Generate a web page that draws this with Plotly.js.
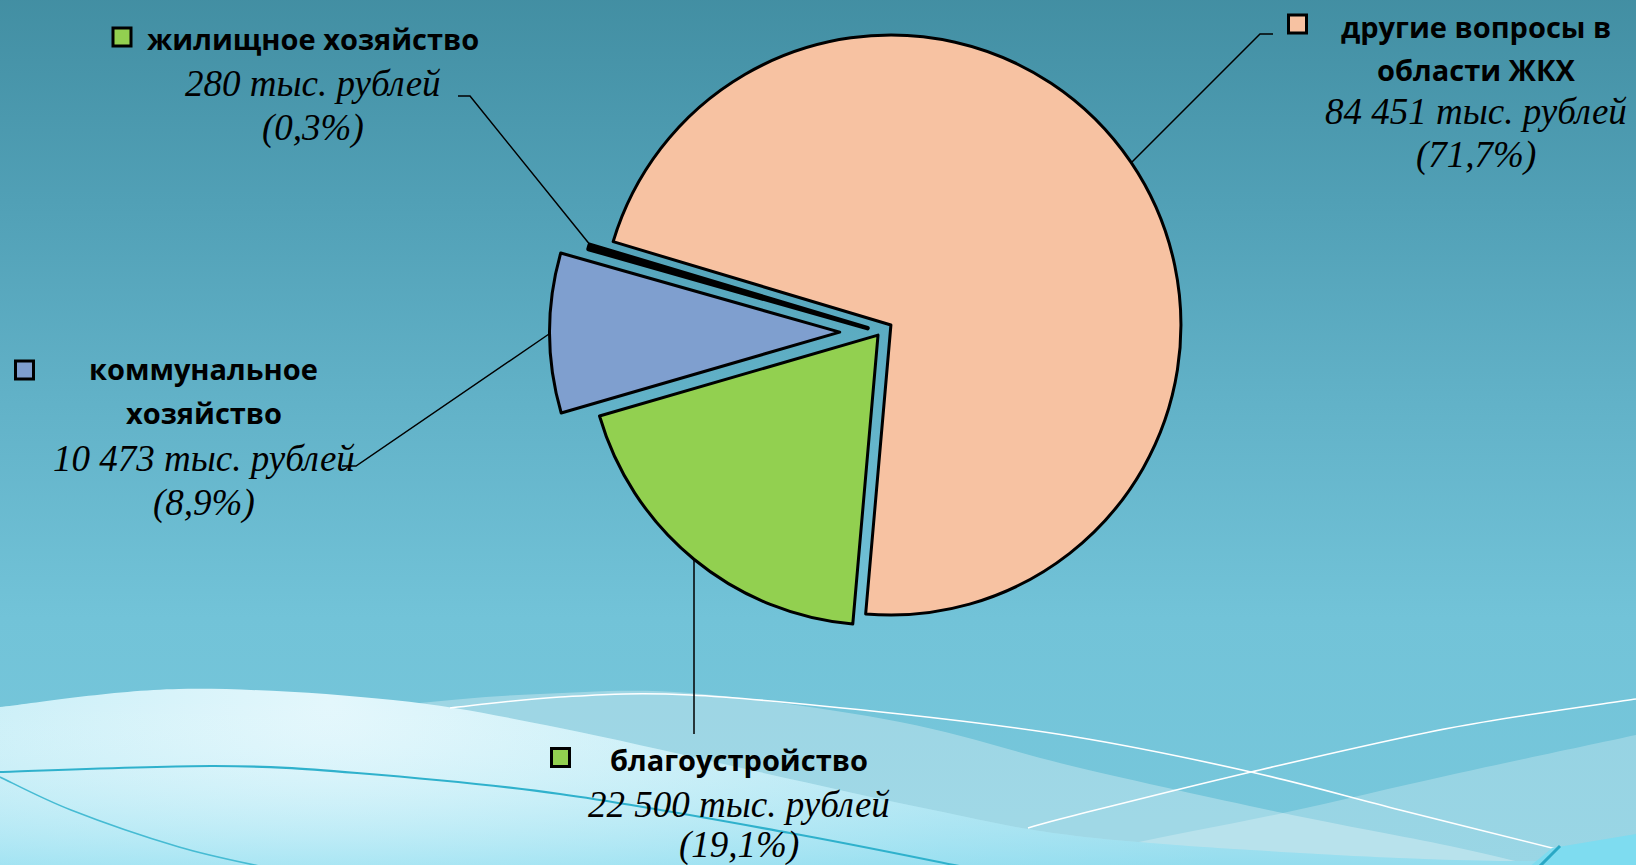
<!DOCTYPE html>
<html><head><meta charset="utf-8">
<script src="https://cdn.plot.ly/plotly-3.0.1.min.js"></script>
<style>
html,body{margin:0;padding:0;width:1636px;height:865px;overflow:hidden;background:#5aaac0;}
#chart{position:absolute;left:0;top:-20px;width:1636px;height:885px;}
</style></head><body><div id="chart"></div>
<script>
// ---------- data ----------
const categories = ['другие вопросы в области ЖКХ', 'благоустройство', 'коммунальное хозяйство', 'жилищное хозяйство'];
const labelLines = [['другие вопросы в', 'области ЖКХ'], ['благоустройство'], ['коммунальное', 'хозяйство'], ['жилищное хозяйство']];
const values = [84451, 22500, 10473, 280];
const percentLabels = ['71,7', '19,1', '8,9', '0,3'];
const unitText = 'тыс. рублей';
// ---------- styling ----------
const sliceColors = ['#F7C2A2', '#92D050', '#7F9FCF', '#92D050'];
const pulls = [0.043, 0.014, 0.141, 0.047];
const lineWidths = [3, 3, 3, 4.5];

const W = 1636, H = 885, OFF = 20;
const px = x => x / W, py = y => 1 - (y + OFF) / H;
const fmt = v => String(v).replace(/\B(?=(\d{3})+(?!\d))/g, ' ');

// pie geometry (pixels)
const PIE_CX = 880.6, PIE_CY = 332, PIE_R = 290;
const maxPull = Math.max(...pulls);
const half = PIE_R * (1 + maxPull);

// label placement (pixels)
const labelPos = [
  {sq: [1297.5, 24], cx: 1476, lines: [26, 69], vals: [111, 155], leader: [[1132, 162], [1260, 34], [1273, 34]]},
  {sq: [560.5, 757.5], cx: 739, lines: [759], vals: [804, 845], leader: [[694, 558], [694, 734]]},
  {sq: [24.5, 370], cx: 203.5, lines: [368, 412], vals: [458, 503], leader: [[549, 334], [356, 466], [342, 466]]},
  {sq: [122, 37], cx: 312.5, lines: [38], vals: [83, 128], leader: [[591, 246], [470, 96], [458, 96]]}
];

function smooth(pts) {
  const r = v => Math.round(v * 10) / 10;
  let d = 'M' + pts[0][0] + ',' + pts[0][1];
  for (let i = 0; i < pts.length - 1; i++) {
    const p0 = pts[i - 1] || pts[i], p1 = pts[i], p2 = pts[i + 1], p3 = pts[i + 2] || p2;
    const c1 = [r(p1[0] + (p2[0] - p0[0]) / 6), r(p1[1] + (p2[1] - p0[1]) / 6)];
    const c2 = [r(p2[0] - (p3[0] - p1[0]) / 6), r(p2[1] - (p3[1] - p1[1]) / 6)];
    d += ' C' + c1 + ' ' + c2 + ' ' + p2;
  }
  return d;
}

// background decoration as svg
const bandA = smooth([[330,715],[420,703],[540,694],[690,693],[900,722],[1076,767],[1283,813],[1450,846],[1560,872]]) + ' L1560,890 L330,890 Z';
const bandB = smooth([[1000,880],[1122,846],[1283,813],[1450,775],[1636,735]]) + ' L1636,890 L1000,890 Z';
const light = smooth([[0,707],[179,689],[393,700],[560,728],[750,770],[933,810],[1076,836],[1300,853],[1500,861],[1636,858]]) + ' L1636,890 L0,890 Z';
const cyan1 = smooth([[0,772],[214,766],[357,773],[560,794],[790,833],[969,868]]);
const cyan2 = smooth([[0,777],[71,810],[179,847],[268,868]]);
const white1 = smooth([[450,708],[560,697],[690,695],[900,714],[1076,737],[1251,772],[1400,810],[1572,853]]);
const white2 = smooth([[1028,828],[1076,815],[1251,772],[1450,728],[1636,699]]);

const svg = `<svg xmlns="http://www.w3.org/2000/svg" width="${W}" height="${H}" viewBox="0 -${OFF} ${W} ${H}" preserveAspectRatio="none">
<defs>
<linearGradient id="bg" x1="0" y1="-20" x2="0" y2="865" gradientUnits="userSpaceOnUse">
<stop offset="0" stop-color="#418DA1"/><stop offset="0.25" stop-color="#51A0B6"/><stop offset="0.48" stop-color="#62B2C8"/><stop offset="0.72" stop-color="#72C3D8"/><stop offset="1" stop-color="#78C8DC"/>
</linearGradient>
<radialGradient id="lg" cx="330" cy="700" r="900" gradientUnits="userSpaceOnUse">
<stop offset="0" stop-color="#E3F7FC"/><stop offset="0.35" stop-color="#CDF0F8"/><stop offset="0.7" stop-color="#B3E6F3"/><stop offset="1" stop-color="#A8E0EE"/>
</radialGradient>
<linearGradient id="lg2" x1="0" y1="700" x2="0" y2="870" gradientUnits="userSpaceOnUse">
<stop offset="0" stop-color="#FFFFFF" stop-opacity="0"/><stop offset="1" stop-color="#7FD9EE" stop-opacity="0.55"/>
</linearGradient>
</defs>
<rect x="0" y="-20" width="${W}" height="${H}" fill="url(#bg)"/>
<path d="${bandA}" fill="#FFFFFF" fill-opacity="0.3"/>
<path d="${bandB}" fill="#FFFFFF" fill-opacity="0.25"/>
<path d="${light}" fill="url(#lg)"/>
<path d="${light}" fill="url(#lg2)"/>
<path d="${white1}" fill="none" stroke="#FFFFFF" stroke-width="1.6"/>
<path d="${white2}" fill="none" stroke="#FFFFFF" stroke-width="1.6"/>
<path d="${cyan1}" fill="none" stroke="#2FB1CC" stroke-width="2.2"/>
<path d="${cyan2}" fill="none" stroke="#46BBD3" stroke-width="1.6"/>
<path d="M1528,868 L1552,848 L1636,834 L1636,868 Z" fill="#7EDCF0"/>
<path d="M1538,868 L1560,846" stroke="#2AA8C5" stroke-width="3"/>
</svg>`;
const bgURI = 'data:image/svg+xml;charset=utf-8,' + encodeURIComponent(svg);

const trace = {
  type: 'pie',
  labels: categories,
  values: values,
  sort: false,
  direction: 'clockwise',
  rotation: -73.3,
  pull: pulls,
  marker: {colors: sliceColors, line: {color: '#000000', width: lineWidths}},
  textinfo: 'none',
  textposition: 'none',
  hoverinfo: 'label+value+percent',
  showlegend: false,
  domain: {x: [px(PIE_CX - half), px(PIE_CX + half)], y: [py(PIE_CY + half), py(PIE_CY - half)]}
};

const annotations = [], shapes = [];
categories.forEach((c, i) => {
  const p = labelPos[i];
  labelLines[i].forEach((t, k) => annotations.push({
    xref: 'paper', yref: 'paper', x: px(p.cx), y: py(p.lines[k]), xanchor: 'center', yanchor: 'middle',
    text: t, showarrow: false, font: {family: 'Open Sans', size: 29, weight: 'bold', color: '#000000'}
  }));
  [fmt(values[i]) + ' ' + unitText, '(' + percentLabels[i] + '%)'].forEach((t, k) => annotations.push({
    xref: 'paper', yref: 'paper', x: px(p.cx), y: py(p.vals[k]), xanchor: 'center', yanchor: 'middle',
    text: t, showarrow: false, font: {family: 'Liberation Serif', size: 37, style: 'italic', color: '#000000'}
  }));
  shapes.push({type: 'rect', xref: 'paper', yref: 'paper',
    x0: px(p.sq[0] - 9), x1: px(p.sq[0] + 9), y0: py(p.sq[1] + 9), y1: py(p.sq[1] - 9),
    fillcolor: sliceColors[i], line: {color: '#000000', width: 3}});
  shapes.push({type: 'path', xref: 'paper', yref: 'paper',
    path: 'M' + p.leader.map(q => px(q[0]) + ',' + py(q[1])).join(' L'),
    line: {color: '#000000', width: 1.5}});
});

const layout = {
  width: W, height: H,
  margin: {l: 0, r: 0, t: 0, b: 0, pad: 0},
  paper_bgcolor: 'rgba(0,0,0,0)', plot_bgcolor: 'rgba(0,0,0,0)',
  showlegend: false,
  images: [{source: bgURI, xref: 'paper', yref: 'paper', x: 0, y: 1, sizex: 1, sizey: 1,
    xanchor: 'left', yanchor: 'top', sizing: 'stretch', layer: 'below'}],
  annotations: annotations,
  shapes: shapes
};

Plotly.newPlot('chart', [trace], layout, {displayModeBar: false, staticPlot: true});
</script></body></html>
